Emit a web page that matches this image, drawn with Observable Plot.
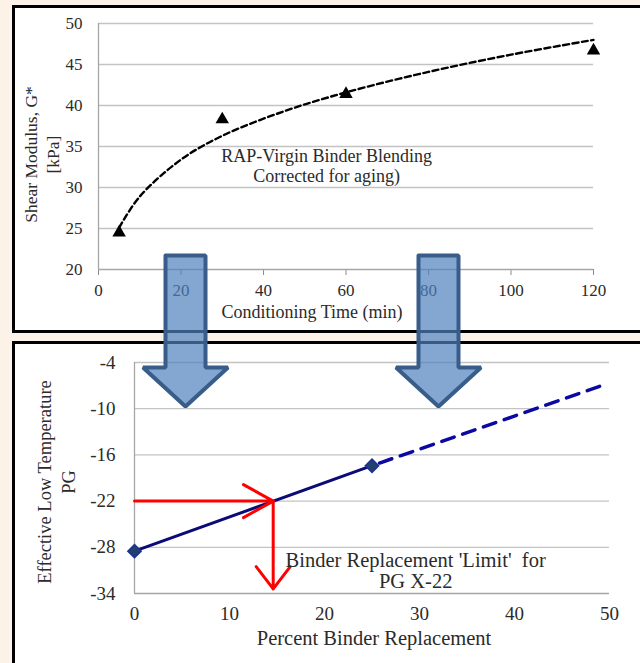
<!DOCTYPE html>
<html><head><meta charset="utf-8">
<script src="https://cdn.jsdelivr.net/npm/d3@7"></script>
<script src="https://cdn.jsdelivr.net/npm/@observablehq/plot@0.6"></script>
<style>
html,body{margin:0;padding:0;}
body{width:640px;height:663px;overflow:hidden;position:relative;background:#fdf2e8;font-family:"Liberation Serif","Times New Roman",serif;}
.panel{position:absolute;border:3px solid #000;background:#fff;overflow:hidden;}
#top{left:12px;top:5px;width:640px;height:322px;}
#bot{left:12px;top:341px;width:640px;height:330px;}
#overlay{position:absolute;left:0;top:0;pointer-events:none;}
.panel svg, #overlay svg{display:block;}
svg text{font-family:"Liberation Serif","Times New Roman",serif !important;}
</style></head><body>
<div id="top" class="panel"></div>
<div id="bot" class="panel"></div>
<div id="overlay"></div>
<script>
// ---- Top chart data ----
const conditioningTime = [5, 30, 60, 120];
const shearModulus = [24.5, 38.3, 41.4, 46.7];
const trendTime = [5, 10, 20, 30, 45, 60, 80, 100, 120];
const trendModulus = [25.1, 28.9, 33.4, 36.3, 39.3, 41.6, 44.1, 46.2, 48.0];
const topXTicks = [0, 20, 40, 60, 80, 100, 120];
const topYTicks = [20, 25, 30, 35, 40, 45, 50];
const topNote = ["RAP-Virgin Binder Blending", "Corrected for aging)"];
const topXTitle = "Conditioning Time (min)";
const topYTitle = ["Shear Modulus, G*", "[kPa]"];

// ---- Bottom chart data ----
const binderPct = [0, 25];
const lowTempPG = [-28.5, -17.4];
const projPct = [25, 49.2];
const projPG = [-17.4, -7.0];
const limitPG = -22;
const limitPct = 14.6;
const limitArrowEnd = -33.4;
const botXTicks = [0, 10, 20, 30, 40, 50];
const botYTicks = [-4, -10, -16, -22, -28, -34];
const botNote = ["Binder Replacement 'Limit'\u00a0 for", "PG X-22"];
const botXTitle = "Percent Binder Replacement";
const botYTitle = ["Effective Low Temperature", "PG"];

// ---- Connecting block arrows (page pixel geometry) ----
const blockArrowCenters = [185, 438];

const grid = "#c3c3c3";
const axisGray = "#a6a6a6";
const textColor = "#2b2b2b";
const serif = "'Liberation Serif', 'Times New Roman', serif";

// ===== Top chart =====
const topPts = conditioningTime.map((t, i) => ({t, g: shearModulus[i]}));
const trendPts = trendTime.map((t, i) => ({t, g: trendModulus[i]}));
const topPlot = Plot.plot({
  width: 640, height: 322,
  marginLeft: 83, marginRight: 62, marginTop: 15, marginBottom: 61,
  style: {fontFamily: serif, fontSize: "17px", color: textColor, background: "white"},
  x: {domain: [0, 120], ticks: topXTicks, tickSize: 6, tickPadding: 8, label: null, tickFormat: d => `${d}`},
  y: {domain: [20, 50], ticks: topYTicks, tickSize: 0, tickPadding: 16, label: null, tickFormat: d => `${d}`},
  marks: [
    Plot.ruleY(topYTicks.filter(v => v > 20), {stroke: grid, strokeWidth: 1.3}),
    Plot.ruleY([20], {stroke: axisGray, strokeWidth: 1.3}),
    Plot.ruleX([0], {stroke: axisGray, strokeWidth: 1.3}),
    Plot.line(trendPts, {x: "t", y: "g", stroke: "#000", strokeWidth: 2.4, strokeDasharray: "6,3.5", curve: "catmull-rom"}),
    Plot.dot(topPts, {x: "t", y: "g", symbol: "triangle", fill: "#000", r: 5}),
    Plot.text([topNote.join("\n")], {x: () => 55.3, y: () => 32.7, text: d => d, fontFamily: serif, fontSize: 18, lineHeight: 1.12, fill: textColor}),
    Plot.text([topXTitle], {frameAnchor: "bottom", textAnchor: "middle", lineAnchor: "middle", dy: 43, dx: -34, text: d => d, fontFamily: serif, fontSize: 18, fill: textColor}),
    Plot.text([topYTitle[0]], {frameAnchor: "left", textAnchor: "middle", lineAnchor: "middle", rotate: -90, dx: -67, dy: 8, text: d => d, fontFamily: serif, fontSize: 17.5, fill: textColor}),
    Plot.text([topYTitle[1]], {frameAnchor: "left", textAnchor: "middle", lineAnchor: "middle", rotate: -90, dx: -45, dy: 8, text: d => d, fontFamily: serif, fontSize: 17.5, fill: textColor})
  ]
});
document.getElementById("top").appendChild(topPlot);
topPlot.querySelectorAll('g[aria-label="x-axis tick"]').forEach(g => g.setAttribute("stroke", "#8c8c8c"));
topPlot.querySelectorAll('g[aria-label="x-axis"] line').forEach(l => l.setAttribute("stroke", "#8c8c8c"));

// ===== Bottom chart =====
const solidPts = binderPct.map((p, i) => ({p, v: lowTempPG[i]}));
const projPts = projPct.map((p, i) => ({p, v: projPG[i]}));
const botPlot = Plot.plot({
  width: 640, height: 330,
  marginLeft: 119, marginRight: 46, marginTop: 18, marginBottom: 81,
  style: {fontFamily: serif, fontSize: "19px", color: textColor, background: "white"},
  x: {domain: [0, 50], ticks: botXTicks, tickSize: 0, tickPadding: 13, label: null, tickFormat: d => `${d}`},
  y: {domain: [-34, -4], ticks: botYTicks, tickSize: 0, tickPadding: 19, label: null, tickFormat: d => `${d}`},
  marks: [
    Plot.ruleY(botYTicks.filter(v => v > -34), {stroke: grid, strokeWidth: 1.3}),
    Plot.ruleY([-34], {stroke: axisGray, strokeWidth: 1.3}),
    Plot.ruleX([0], {stroke: axisGray, strokeWidth: 1.3}),
    Plot.line(projPts, {x: "p", y: "v", stroke: "#0a0aa3", strokeWidth: 3.5, strokeDasharray: "13,9", strokeDashoffset: -8}),
    Plot.line(solidPts, {x: "p", y: "v", stroke: "#0b0b78", strokeWidth: 3}),
    Plot.arrow([{x1: 0, y1: limitPG, x2: limitPct, y2: limitPG}], {x1: "x1", y1: "y1", x2: "x2", y2: "y2", stroke: "#ff0000", strokeWidth: 3, headLength: 17, headAngle: 58}),
    Plot.arrow([{x1: limitPct, y1: limitPG, x2: limitPct, y2: limitArrowEnd}], {x1: "x1", y1: "y1", x2: "x2", y2: "y2", stroke: "#ff0000", strokeWidth: 3, headLength: 14, headAngle: 75}),
    Plot.dot(solidPts, {x: "p", y: "v", symbol: "diamond2", r: 6, fill: "#22406f", stroke: "#1f2f95", strokeWidth: 1.5}),
    Plot.text([botNote.join("\n")], {x: () => 29.6, y: () => -31.05, text: d => d, fontFamily: serif, fontSize: 20.5, lineHeight: 1.03, fill: textColor}),
    Plot.text([botXTitle], {frameAnchor: "bottom", textAnchor: "middle", lineAnchor: "middle", dy: 45, dx: 2, text: d => d, fontFamily: serif, fontSize: 20.5, fill: textColor}),
    Plot.text([botYTitle[0]], {frameAnchor: "left", textAnchor: "middle", lineAnchor: "middle", rotate: -90, dx: -89, dy: 4, text: d => d, fontFamily: serif, fontSize: 18.5, fill: textColor}),
    Plot.text([botYTitle[1]], {frameAnchor: "left", textAnchor: "middle", lineAnchor: "middle", rotate: -90, dx: -65, dy: 4, text: d => d, fontFamily: serif, fontSize: 18.5, fill: textColor})
  ]
});
document.getElementById("bot").appendChild(botPlot);

// ===== Overlay block arrows =====
const shaftHalf = 20, headHalf = 42.5, shaftTop = 255, headBase = 367, tipY = 406;
const arrowPts = blockArrowCenters.flatMap((cx, id) => [
  [cx - shaftHalf, shaftTop], [cx + shaftHalf, shaftTop], [cx + shaftHalf, headBase],
  [cx + headHalf, headBase], [cx, tipY], [cx - headHalf, headBase],
  [cx - shaftHalf, headBase], [cx - shaftHalf, shaftTop]
].map(([x, y]) => ({id, x, y})));
const overlay = Plot.plot({
  width: 640, height: 663, margin: 0,
  style: {background: "transparent"},
  x: {domain: [0, 640], axis: null},
  y: {domain: [663, 0], axis: null},
  marks: [
    Plot.line(arrowPts, {x: "x", y: "y", z: "id", fill: "#4f81bd", fillOpacity: 0.7, stroke: "#385d8a", strokeWidth: 4, strokeLinejoin: "miter", curve: "linear"})
  ]
});
document.getElementById("overlay").appendChild(overlay);
</script>
</body></html>
